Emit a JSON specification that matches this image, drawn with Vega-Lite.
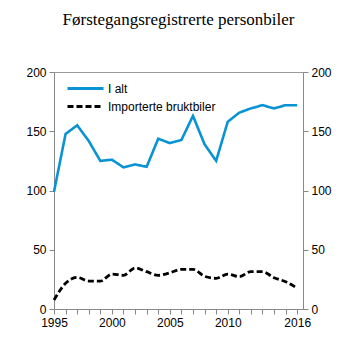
{
  "$schema": "https://vega.github.io/schema/vega-lite/v6.json",
  "width": 249,
  "height": 237,
  "autosize": {"type": "none"},
  "padding": {"left": 54, "top": 72, "right": 50, "bottom": 44},
  "background": "white",
  "title": {"text": "Førstegangsregistrerte personbiler", "font": "Liberation Serif", "fontSize": 17, "fontWeight": "normal", "color": "#000", "anchor": "middle", "offset": 37},
  "config": {
    "view": {"stroke": "#999", "strokeWidth": 1},
    "axis": {"labelFont": "Liberation Sans", "labelFontSize": 12, "labelColor": "#000", "domainColor": "#888", "tickColor": "#888", "grid": false, "tickSize": 5, "labelPadding": 3}
  },
  "data": {"values": [
    {"year": 1995, "series": "I alt", "value": 99},
    {"year": 1996, "series": "I alt", "value": 147.7},
    {"year": 1997, "series": "I alt", "value": 155},
    {"year": 1998, "series": "I alt", "value": 141.8},
    {"year": 1999, "series": "I alt", "value": 125},
    {"year": 2000, "series": "I alt", "value": 126},
    {"year": 2001, "series": "I alt", "value": 119.5},
    {"year": 2002, "series": "I alt", "value": 122},
    {"year": 2003, "series": "I alt", "value": 120},
    {"year": 2004, "series": "I alt", "value": 143.7},
    {"year": 2005, "series": "I alt", "value": 140},
    {"year": 2006, "series": "I alt", "value": 142.6},
    {"year": 2007, "series": "I alt", "value": 163},
    {"year": 2008, "series": "I alt", "value": 139},
    {"year": 2009, "series": "I alt", "value": 125},
    {"year": 2010, "series": "I alt", "value": 158},
    {"year": 2011, "series": "I alt", "value": 165.7},
    {"year": 2012, "series": "I alt", "value": 169.3},
    {"year": 2013, "series": "I alt", "value": 172},
    {"year": 2014, "series": "I alt", "value": 169.3},
    {"year": 2015, "series": "I alt", "value": 172},
    {"year": 2016, "series": "I alt", "value": 172},
    {"year": 1995, "series": "Importerte bruktbiler", "value": 7.6},
    {"year": 1996, "series": "Importerte bruktbiler", "value": 21.7},
    {"year": 1997, "series": "Importerte bruktbiler", "value": 26.7},
    {"year": 1998, "series": "Importerte bruktbiler", "value": 23.6},
    {"year": 1999, "series": "Importerte bruktbiler", "value": 23.5},
    {"year": 2000, "series": "Importerte bruktbiler", "value": 29.5},
    {"year": 2001, "series": "Importerte bruktbiler", "value": 28.4},
    {"year": 2002, "series": "Importerte bruktbiler", "value": 34.6},
    {"year": 2003, "series": "Importerte bruktbiler", "value": 31.5},
    {"year": 2004, "series": "Importerte bruktbiler", "value": 28.4},
    {"year": 2005, "series": "Importerte bruktbiler", "value": 30.5},
    {"year": 2006, "series": "Importerte bruktbiler", "value": 33.5},
    {"year": 2007, "series": "Importerte bruktbiler", "value": 33.5},
    {"year": 2008, "series": "Importerte bruktbiler", "value": 27.6},
    {"year": 2009, "series": "Importerte bruktbiler", "value": 25.9},
    {"year": 2010, "series": "Importerte bruktbiler", "value": 29.5},
    {"year": 2011, "series": "Importerte bruktbiler", "value": 27.3},
    {"year": 2012, "series": "Importerte bruktbiler", "value": 31.5},
    {"year": 2013, "series": "Importerte bruktbiler", "value": 31.5},
    {"year": 2014, "series": "Importerte bruktbiler", "value": 26.4},
    {"year": 2015, "series": "Importerte bruktbiler", "value": 23},
    {"year": 2016, "series": "Importerte bruktbiler", "value": 17.5}
  ]},
  "encoding": {
    "x": {"field": "year", "type": "quantitative", "title": null,
      "scale": {"domain": [1995, 2016.5], "nice": false, "zero": false},
      "axis": {"values": [1995,1996,1997,1998,1999,2000,2001,2002,2003,2004,2005,2006,2007,2008,2009,2010,2011,2012,2013,2014,2015,2016],
        "labelExpr": "indexof([1995,2000,2005,2010,2016], datum.value) >= 0 ? format(datum.value, 'd') : ''",
        "labelFlush": false, "labelOverlap": false}},
    "y": {"field": "value", "type": "quantitative", "title": null,
      "scale": {"domain": [0, 200], "nice": false},
      "axis": {"values": [0, 50, 100, 150, 200]}},
    "color": {"field": "series", "type": "nominal", "title": null,
      "scale": {"domain": ["I alt", "Importerte bruktbiler"], "range": ["#0a93d4", "#000000"]},
      "legend": {"orient": "none", "legendX": 24, "legendY": 9, "symbolType": "M-3,0H3", "symbolSize": 144, "symbolStrokeWidth": 3, "symbolFillColor": "transparent", "labelFont": "Liberation Sans", "labelFontSize": 12, "labelColor": "#000", "rowPadding": 4, "padding": 0, "labelOffset": 15}},
    "strokeDash": {"field": "series", "type": "nominal", "title": null,
      "scale": {"domain": ["I alt", "Importerte bruktbiler"], "range": [[1, 0], [6, 3]]}}
  },
  "layer": [
    {"transform": [{"filter": "datum.series == 'I alt'"}],
     "mark": {"type": "line", "strokeWidth": 2.6}},
    {"transform": [{"filter": "datum.series == 'Importerte bruktbiler'"}],
     "mark": {"type": "line", "strokeWidth": 2.8, "interpolate": "monotone"},
     "encoding": {"y": {"field": "value", "type": "quantitative", "axis": {"orient": "right", "values": [0, 50, 100, 150, 200]}}}}
  ],
  "resolve": {"axis": {"y": "independent"}}
}
